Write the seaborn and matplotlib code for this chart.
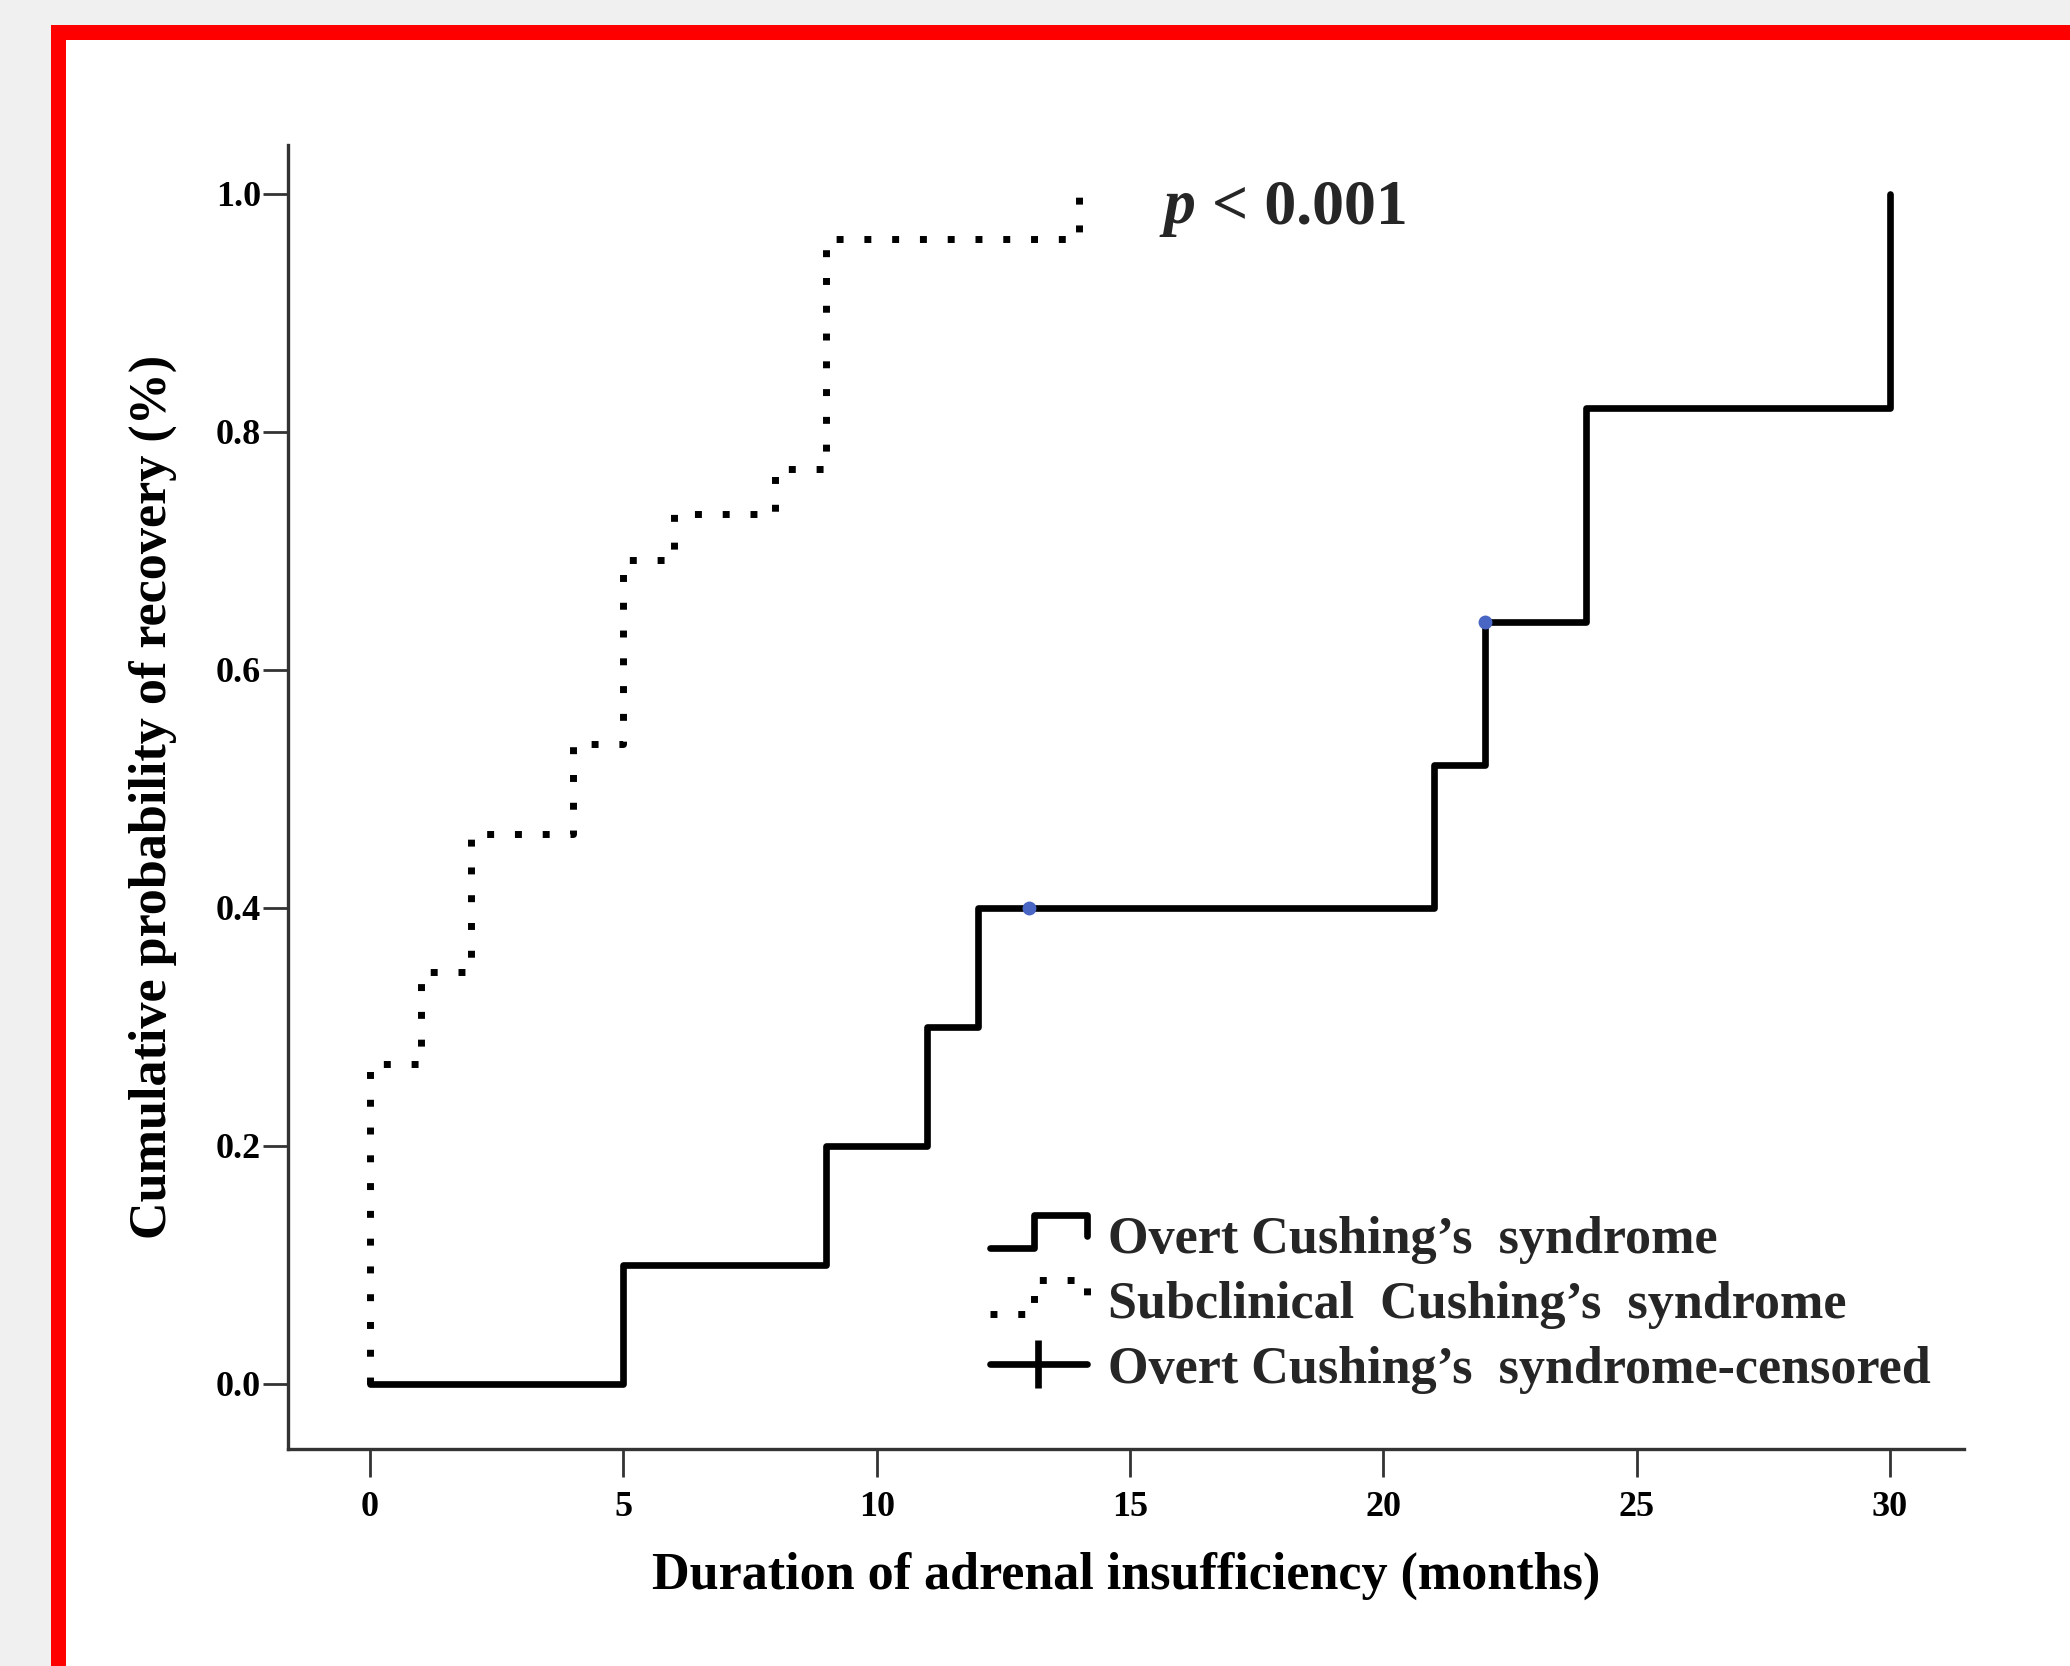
import numpy as np
import pandas as pd
import seaborn as sns
import matplotlib.pyplot as plt
from matplotlib.lines import Line2D
from matplotlib.patches import Rectangle
from matplotlib.legend_handler import HandlerBase

# Kaplan-Meier cumulative recovery
overt_time = [0, 5, 9, 11, 12, 21, 22, 24, 30]
overt_cum = [0.0, 0.1, 0.2, 0.3, 0.4, 0.52, 0.64, 0.82, 1.0]
subclin_time = [0, 0, 1, 2, 4, 5, 6, 8, 9, 14]
subclin_cum = [0.0, 0.269, 0.346, 0.462, 0.538, 0.692, 0.731, 0.769, 0.962, 1.0]
censor_time = [13, 22]
censor_cum = [0.4, 0.64]

x_ticks = [0, 5, 10, 15, 20, 25, 30]
y_ticks = [0.0, 0.2, 0.4, 0.6, 0.8, 1.0]
labels = ["Overt Cushing\u2019s  syndrome",
          "Subclinical  Cushing\u2019s  syndrome",
          "Overt Cushing\u2019s  syndrome-censored"]


class StepHandler(HandlerBase):
    #draws a little step curve as the legend icon
    def create_artists(self, legend, orig_handle, xdescent, ydescent,
                       width, height, fontsize, trans):
        xs = np.array([0, 0.45, 0.45, 1, 1]) * width - xdescent
        ys = np.array([0.15, 0.15, 1.0, 1.0, 0.45]) * height - ydescent
        line = Line2D(xs, ys)
        line.update_from(orig_handle)
        line.set_transform(trans)
        return [line]


sns.set_style("white")
plt.rcParams['font.family'] = ['Liberation Serif', 'DejaVu Serif']

fig = plt.figure(figsize=(20.7, 16.66), dpi=100)
fig.patch.set_facecolor('#f0f0f0')
# red framed white panel (runs off the right and bottom edge)
fig.add_artist(Rectangle((58 / 2070, -0.1), 2.0, 1.0 - 31.5 / 1666 + 0.1,
                         transform=fig.transFigure, facecolor='white',
                         edgecolor='#ff0000', lw=10.8, zorder=-1))

ax = fig.add_axes([0.1391, 0.1303, 0.8097, 0.7827])
ax.set_facecolor('none')

sns.lineplot(x=overt_time, y=overt_cum, drawstyle='steps-post', estimator=None,
             sort=False, color='black', lw=4.8, ax=ax, legend=False)
sns.lineplot(x=subclin_time, y=subclin_cum, drawstyle='steps-post', estimator=None,
             sort=False, color='black', lw=5.0, linestyle=(0, (1, 3.0)),
             ax=ax, legend=False, zorder=1)
sns.scatterplot(x=censor_time, y=censor_cum, color='#4a66c4', s=100,
                linewidth=0, ax=ax, zorder=3, legend=False)

ax.set_xlim(-1.62, 31.46)
ax.set_ylim(-0.0546, 1.041)
ax.set_xticks(x_ticks)
ax.set_yticks(y_ticks)
ax.set_xticklabels([str(t) for t in x_ticks])
ax.set_yticklabels([f"{t:.1f}" for t in y_ticks])
for lab in ax.get_xticklabels() + ax.get_yticklabels():
    lab.set_fontweight('bold')
    lab.set_fontsize(26)
    lab.set_color('black')

sns.despine(ax=ax)
for side in ['left', 'bottom']:
    ax.spines[side].set_linewidth(2.4)
    ax.spines[side].set_color('#333333')
ax.tick_params(axis='y', direction='out', length=18, width=2, pad=1.5, color='#333333', left=True)
ax.tick_params(axis='x', direction='out', length=20, width=2, pad=10, color='#333333', bottom=True)

ax.set_xlabel("Duration of adrenal insufficiency (months)", fontsize=37.5,
              fontweight='bold', color='black')
ax.set_ylabel("Cumulative probability of recovery (%)", fontsize=37.5,
              fontweight='bold', color='black')
ax.xaxis.set_label_coords(0.5, -0.079)
ax.yaxis.set_label_coords(-0.066, 0.5)

# p value
t = ax.text(15.67, 0.975, "p", style='italic', fontweight='bold', fontsize=46,
            va='baseline', ha='left')
ax.annotate(" < 0.001", xy=(1, 0), xycoords=t, va='bottom', ha='left',
            fontsize=46, fontweight='bold')

# legend
plus = Line2D([], [], color='black', lw=4.8, marker='|', markersize=34,
              markeredgewidth=4.8)
handles = [ax.lines[0], ax.lines[1], plus]
ax.legend(handles, labels, handler_map={ax.lines[0]: StepHandler(), ax.lines[1]: StepHandler()},
          loc='center left', bbox_to_anchor=(0.419, 0.111), frameon=False,
          prop={'size': 37.5, 'weight': 'bold'}, handlelength=1.85, handleheight=0.8,
          handletextpad=0.42, labelspacing=0.31, borderpad=0, borderaxespad=0)

fig.savefig('out.png', dpi=100, facecolor=fig.get_facecolor())
